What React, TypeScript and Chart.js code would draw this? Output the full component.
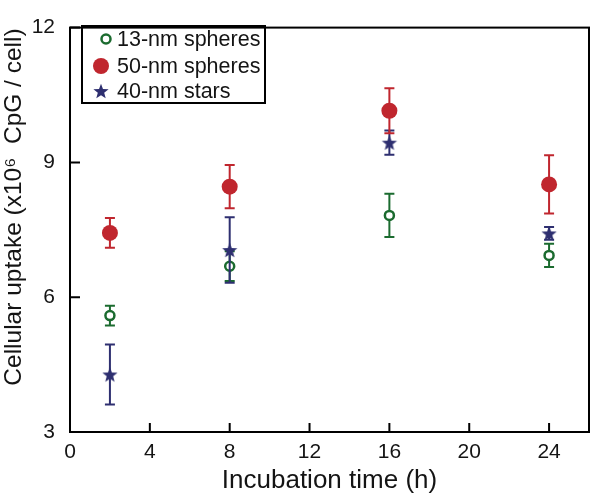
import React, { useEffect, useRef } from 'react';
import { Chart, registerables } from 'chart.js';

Chart.register(...registerables);

// ---- data ----
const times = [2, 8, 16, 24];
const sphere13 = [5.59, 6.69, 7.82, 6.93];
const sphere13Err = [0.22, 0.33, 0.48, 0.26];
const sphere50 = [7.43, 8.46, 10.15, 8.51];
const sphere50Err = [0.33, 0.48, 0.5, 0.65];
const stars40 = [4.28, 7.05, 9.44, 7.42];
const stars40Err = [0.67, 0.73, 0.27, 0.14];
const xTicks = [0, 4, 8, 12, 16, 20, 24];
const yTicks = [3, 6, 9, 12];
const seriesLabels = ['13-nm spheres', '50-nm spheres', '40-nm stars'];
const xTitle = 'Incubation time (h)';
const yTitle = 'Cellular uptake (x10\u2076  CpG / cell)';

const GREEN = '#1b6b2f';
const RED = '#c0262e';
const NAVY = '#2e2f70';
const FONT = "Arial, 'Liberation Sans', Helvetica, sans-serif";
const TEXT = '#141414';

function makeStar(color: string, R: number): HTMLCanvasElement {
  const c = document.createElement('canvas');
  const s = Math.ceil(R * 2) + 2;
  c.width = s;
  c.height = s;
  const ctx = c.getContext('2d')!;
  ctx.fillStyle = color;
  ctx.beginPath();
  for (let i = 0; i < 10; i++) {
    const r = i % 2 === 0 ? R : R * 0.42;
    const a = -Math.PI / 2 + (i * Math.PI) / 5;
    const x = s / 2 + r * Math.cos(a);
    const y = s / 2 + r * Math.sin(a) + R * 0.1;
    if (i === 0) ctx.moveTo(x, y);
    else ctx.lineTo(x, y);
  }
  ctx.closePath();
  ctx.fill();
  return c;
}

const errorBarPlugin = {
  id: 'errorBars',
  beforeDatasetDraw(chart: any, args: any) {
    const ds = chart.data.datasets[args.index];
    const errs: number[] = ds.errors;
    if (!errs) return;
    const xs = chart.scales.x;
    const ys = chart.scales.y;
    const ctx = chart.ctx;
    ctx.save();
    ctx.strokeStyle = ds.errColor;
    ctx.lineWidth = 2;
    ds.data.forEach((p: any, i: number) => {
      const px = xs.getPixelForValue(p.x);
      const y1 = ys.getPixelForValue(p.y + errs[i]);
      const y2 = ys.getPixelForValue(p.y - errs[i]);
      ctx.beginPath();
      ctx.moveTo(px, y1);
      ctx.lineTo(px, y2);
      ctx.moveTo(px - 5, y1);
      ctx.lineTo(px + 5, y1);
      ctx.moveTo(px - 5, y2);
      ctx.lineTo(px + 5, y2);
      ctx.stroke();
    });
    ctx.restore();
  },
};

const framePlugin = {
  id: 'frame',
  afterDraw(chart: any) {
    const { ctx, chartArea: a } = chart;
    const xs = chart.scales.x;
    const ys = chart.scales.y;
    ctx.save();
    ctx.strokeStyle = '#000';
    ctx.lineWidth = 2;
    ctx.strokeRect(a.left, a.top, a.right - a.left, a.bottom - a.top);
    ctx.beginPath();
    xTicks.forEach((v) => {
      const px = xs.getPixelForValue(v);
      ctx.moveTo(px, a.bottom);
      ctx.lineTo(px, a.bottom - 9);
    });
    yTicks.forEach((v) => {
      const py = ys.getPixelForValue(v);
      ctx.moveTo(a.left, py);
      ctx.lineTo(a.left + 10, py);
    });
    ctx.stroke();

    // y-axis title
    ctx.save();
    ctx.translate(14, 207);
    ctx.rotate(-Math.PI / 2);
    ctx.font = `24.5px ${FONT}`;
    ctx.fillStyle = TEXT;
    ctx.textAlign = 'center';
    ctx.textBaseline = 'middle';
    ctx.fillText(yTitle, 0, 0);
    ctx.restore();

    // legend
    const lx = 82, ly = 26, lw = 183, lh = 77;
    ctx.lineWidth = 2;
    ctx.strokeRect(lx, ly, lw, lh);
    const rows = [39, 66, 91];
    const dsOrder = [0, 1, 2];
    ctx.font = `21.5px ${FONT}`;
    ctx.textBaseline = 'middle';
    ctx.textAlign = 'left';
    dsOrder.forEach((di, r) => {
      const ds = chart.data.datasets[di];
      const y = rows[r];
      const mx = di === 0 ? 106 : 101;
      if (ds.pointStyle && typeof ds.pointStyle === 'object') {
        const img = ds.pointStyle as HTMLCanvasElement;
        ctx.drawImage(img, mx - img.width / 2, y - img.height / 2);
      } else {
        ctx.beginPath();
        ctx.arc(mx, y, ds.pointRadius, 0, Math.PI * 2);
        ctx.fillStyle = ds.pointBackgroundColor;
        ctx.fill();
        if (ds.pointBorderWidth > 0) {
          ctx.lineWidth = ds.pointBorderWidth;
          ctx.strokeStyle = ds.pointBorderColor;
          ctx.stroke();
        }
      }
      ctx.fillStyle = TEXT;
      ctx.fillText(seriesLabels[di], 117, y + 1);
    });
    ctx.restore();
  },
};

export default function App() {
  const ref = useRef<HTMLCanvasElement | null>(null);
  useEffect(() => {
    if (!ref.current) return;
    const star = makeStar(NAVY, 8);
    const toPts = (ys: number[]) => times.map((t, i) => ({ x: t, y: ys[i] }));
    const chart = new Chart(ref.current, {
      type: 'scatter',
      data: {
        datasets: [
          {
            label: seriesLabels[0],
            data: toPts(sphere13),
            errors: sphere13Err,
            errColor: GREEN,
            pointStyle: 'circle',
            pointRadius: 4.5,
            pointBorderWidth: 2.5,
            pointBorderColor: GREEN,
            pointBackgroundColor: '#ffffff',
            order: 3,
          } as any,
          {
            label: seriesLabels[1],
            data: toPts(sphere50),
            errors: sphere50Err,
            errColor: RED,
            pointStyle: 'circle',
            pointRadius: 8,
            pointBorderWidth: 0,
            pointBorderColor: RED,
            pointBackgroundColor: RED,
            order: 1,
          } as any,
          {
            label: seriesLabels[2],
            data: toPts(stars40),
            errors: stars40Err,
            errColor: NAVY,
            pointStyle: star,
            pointRadius: 8,
            pointBorderWidth: 0,
            pointBackgroundColor: NAVY,
            pointBorderColor: NAVY,
            order: 2,
          } as any,
        ],
      },
      options: {
        animation: false,
        responsive: true,
        maintainAspectRatio: false,
        layout: { padding: { top: 14, right: 11, left: 0, bottom: 0 } },
        plugins: { legend: { display: false }, tooltip: { enabled: false } },
        scales: {
          x: {
            type: 'linear',
            min: 0,
            max: 26,
            afterBuildTicks: (s: any) => {
              s.ticks = xTicks.map((v) => ({ value: v }));
            },
            afterFit: (s: any) => {
              s.height = 65;
            },
            grid: { display: false, drawTicks: false },
            border: { display: false },
            ticks: {
              includeBounds: false,
              padding: 8,
              color: TEXT,
              font: { size: 21, family: FONT },
              maxRotation: 0,
            },
            title: {
              display: true,
              text: xTitle,
              color: TEXT,
              font: { size: 26, family: FONT },
              padding: { top: 1, bottom: 1 },
            },
          },
          y: {
            type: 'linear',
            min: 3,
            max: 12,
            afterBuildTicks: (s: any) => {
              s.ticks = yTicks.map((v) => ({ value: v }));
            },
            afterFit: (s: any) => {
              s.width = 70;
            },
            grid: { display: false, drawTicks: false },
            border: { display: false },
            ticks: {
              includeBounds: false,
              padding: 15,
              color: TEXT,
              font: { size: 21, family: FONT },
            },
            title: { display: false },
          },
        },
      },
      plugins: [errorBarPlugin, framePlugin],
    } as any);
    return () => chart.destroy();
  }, []);
  return (
    <div style={{ position: 'absolute', left: 0, top: 0, width: 600, height: 497, background: '#fff' }}>
      <canvas ref={ref} />
    </div>
  );
}
